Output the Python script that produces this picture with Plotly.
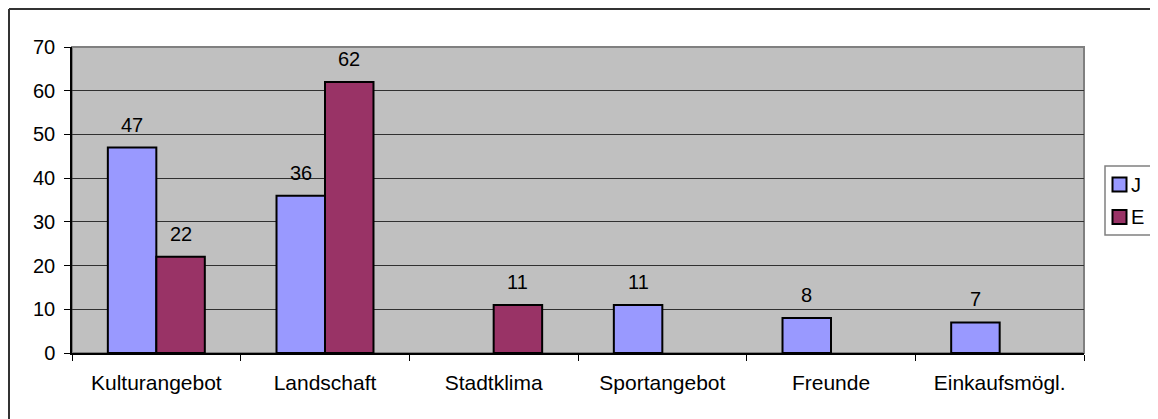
import plotly.graph_objects as go

categories = ["Kulturangebot", "Landschaft", "Stadtklima", "Sportangebot", "Freunde", "Einkaufsmögl."]
values_J = [47, 36, None, 11, 8, 7]
values_E = [22, 62, 11, None, None, None]
series_names = ["J", "E"]
series_colors = ["#9999FF", "#993366"]
y_ticks = [0, 10, 20, 30, 40, 50, 60, 70]

FONT = "Liberation Sans, Arial, sans-serif"
BARGAP = 0.425
OFF = 8  # page body margin
W, H = 1158 - OFF, 419 - OFF
L, T = 64, 39
PW, PH = 1012, 306
R, B = W - L - PW, H - T - PH


def px_x(px):
    # page pixel -> paper coordinate
    return (px - OFF - L) / PW


def px_y(py):
    return (H - B - (py - OFF)) / PH


fig = go.Figure()
for name, vals, col in zip(series_names, [values_J, values_E], series_colors):
    fig.add_trace(go.Bar(x=categories, y=vals, name=name, showlegend=False,
                         marker=dict(color=col, line=dict(color="black", width=2))))

# data labels above bars
half = (1 - BARGAP) / 4
annotations = []
for si, vals in enumerate([values_J, values_E]):
    off = -half if si == 0 else half
    for i, v in enumerate(vals):
        if v is None:
            continue
        annotations.append(dict(x=i + off, y=v, xref="x", yref="y", text=str(v),
                                showarrow=False, yanchor="bottom", yshift=10,
                                font=dict(family=FONT, size=20, color="black")))

shapes = [
    # plot-area frame (grey top/right)
    dict(type="rect", xref="paper", yref="paper", x0=0, x1=1, y0=0, y1=1,
         line=dict(color="#808080", width=2), layer="below"),
    # chart-area border: top and left edges
    dict(type="line", xref="paper", yref="paper",
         x0=px_x(OFF + 1), x1=px_x(OFF + W + 20), y0=px_y(OFF + 1), y1=px_y(OFF + 1),
         line=dict(color="#333333", width=2), layer="above"),
    dict(type="line", xref="paper", yref="paper",
         x0=px_x(OFF + 1), x1=px_x(OFF + 1), y0=px_y(OFF + 1), y1=px_y(OFF + H + 20),
         line=dict(color="#333333", width=2), layer="above"),
    # legend box
    dict(type="rect", xref="paper", yref="paper",
         x0=px_x(1105), x1=px_x(1151), y0=px_y(235), y1=px_y(166),
         line=dict(color="#808080", width=1.5), fillcolor="white"),
]
item_y = [184.5, 217]
for name, col, cy in zip(series_names, series_colors, item_y):
    shapes.append(dict(type="rect", xref="paper", yref="paper",
                       x0=px_x(1112.5), x1=px_x(1126.5), y0=px_y(cy + 7), y1=px_y(cy - 7),
                       line=dict(color="black", width=2), fillcolor=col))
    annotations.append(dict(x=px_x(1129), y=px_y(cy), xref="paper", yref="paper", text=name,
                            showarrow=False, xanchor="left", yanchor="middle",
                            font=dict(family=FONT, size=20, color="black")))

fig.update_layout(
    width=W, height=H,
    margin=dict(l=L, r=R, t=T, b=B, autoexpand=False),
    paper_bgcolor="white", plot_bgcolor="#C0C0C0",
    barmode="group", bargap=BARGAP, bargroupgap=0,
    font=dict(family=FONT, size=20, color="black"),
    showlegend=False,
    annotations=annotations,
    shapes=shapes,
    xaxis=dict(type="category", showgrid=False, showline=True, linecolor="black", linewidth=1.5,
               ticks="outside", ticklen=6, tickcolor="black", tickson="boundaries",
               automargin=False, ticklabelstandoff=10, tickfont=dict(family=FONT, size=21)),
    yaxis=dict(range=[0, 70], tickvals=y_ticks, showgrid=True, gridcolor="#303030", gridwidth=1,
               showline=True, linecolor="black", linewidth=1.5, zeroline=False,
               ticks="outside", ticklen=6, tickcolor="black", automargin=False,
               ticklabelstandoff=5, tickfont=dict(family=FONT, size=20)),
)

fig.write_html(
    "out.html",
    post_script="document.documentElement.style.overflow='hidden';document.body.style.overflow='hidden';",
)
